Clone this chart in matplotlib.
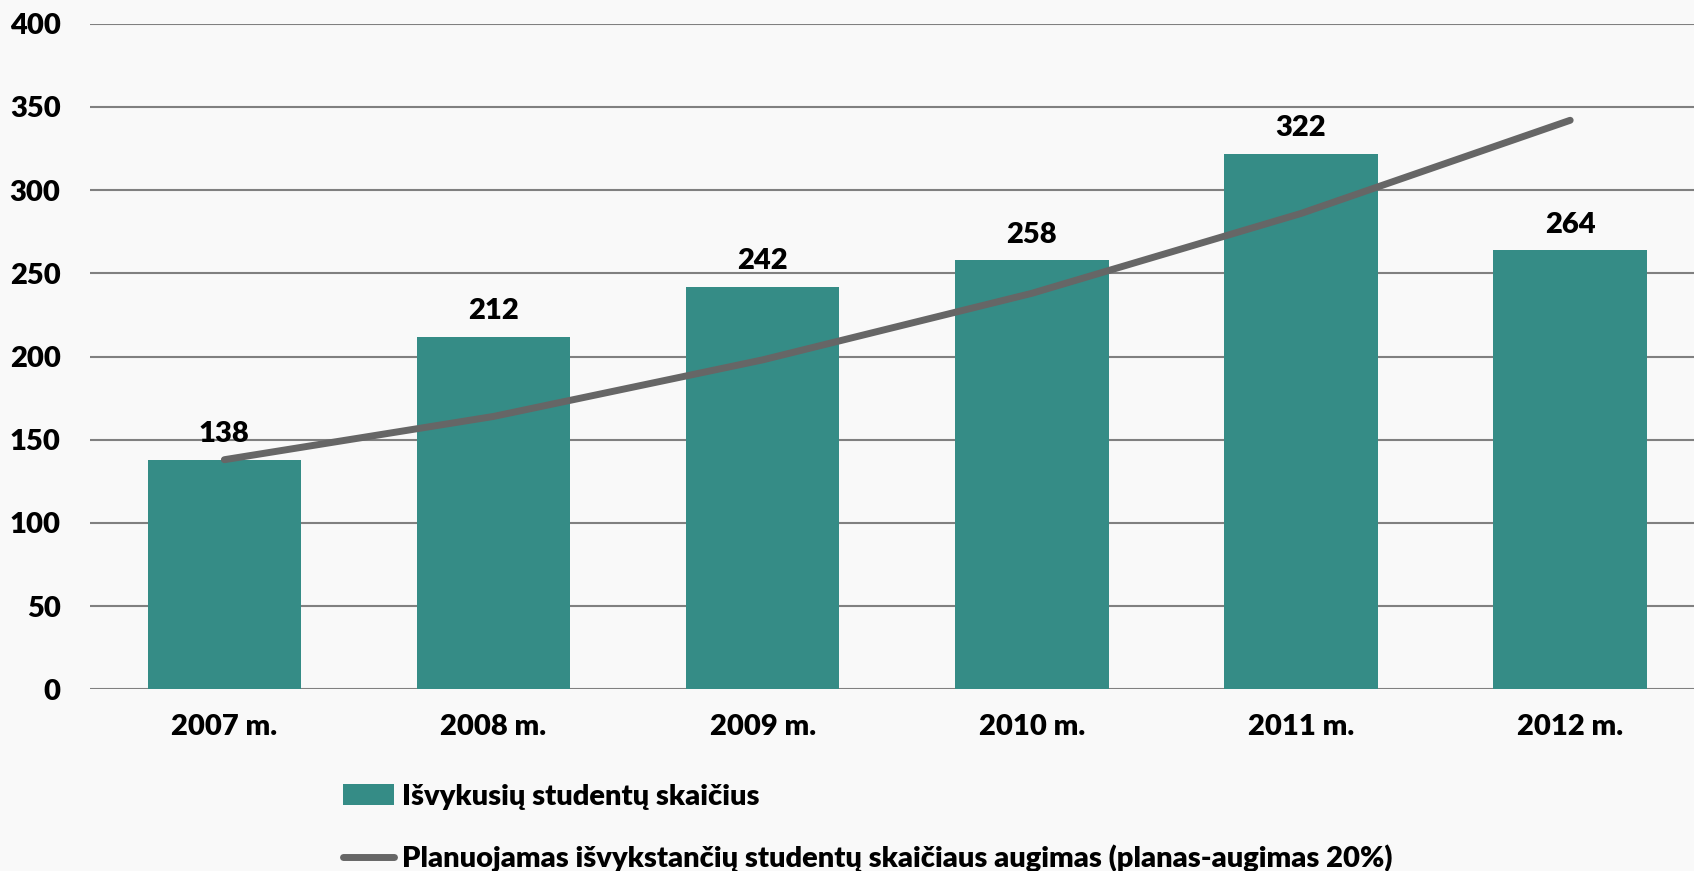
import numpy as np
import matplotlib.pyplot as plt
from matplotlib.patches import Patch
from matplotlib.lines import Line2D

# Duomenys
metai = ['2007 m.', '2008 m.', '2009 m.', '2010 m.', '2011 m.', '2012 m.']
isvykusiu = [138, 212, 242, 258, 322, 264]
planuojamas = [138, 164, 198, 238, 286, 342]
y_ticks = [0, 50, 100, 150, 200, 250, 300, 350, 400]

bar_color = '#358c86'
line_color = '#666666'
plt.rcParams['font.family'] = ['Lato', 'DejaVu Sans']
plt.rcParams['font.weight'] = 'heavy'
FS = 21

fig = plt.figure(figsize=(16.94, 8.71), dpi=100, facecolor='#f9f9f9')
ax = fig.add_axes([0.053, 0.2086, 0.947, 0.7641])
ax.set_facecolor('none')

x = np.arange(len(metai))
ax.bar(x, isvykusiu, width=0.57, color=bar_color, zorder=2)
ax.plot(x, planuojamas, color=line_color, lw=5, solid_capstyle='round',
        zorder=3)

# Reiksmes virs stulpeliu
for xi, v in zip(x, isvykusiu):
    ax.annotate(str(v), (xi, v), xytext=(0, 9), textcoords='offset points',
                ha='center', va='bottom', fontsize=FS, fontweight='heavy',
                color='black', zorder=4)

ax.set_xlim(-0.5, 5.46)
ax.set_ylim(0, 400)
ax.set_yticks(y_ticks)
ax.set_xticks(x)
ax.set_xticklabels(metai)
ax.yaxis.grid(True, color='#808080', lw=1.5, zorder=1)
ax.set_axisbelow(True)
for s in ax.spines.values():
    s.set_visible(False)
ax.tick_params(length=0, labelsize=FS, colors='black')
ax.tick_params(axis='y', pad=21)
ax.tick_params(axis='x', pad=18)
for lab in ax.get_xticklabels() + ax.get_yticklabels():
    lab.set_fontweight('heavy')

# Legenda
handles = [Patch(facecolor=bar_color),
           Line2D([0], [0], color=line_color, lw=5, solid_capstyle='round')]
labels = ['Išvykusių studentų skaičius',
          'Planuojamas išvykstančių studentų skaičiaus augimas (planas-augimas 20%)']
fig.legend(handles, labels, loc='upper left', bbox_to_anchor=(0.2026, 0.100),
           frameon=False, prop={'weight': 'heavy', 'size': FS},
           handlelength=1.75, handletextpad=0.25, labelspacing=1.2,
           borderpad=0, borderaxespad=0)

fig.savefig('out.png', dpi=100, facecolor=fig.get_facecolor())
